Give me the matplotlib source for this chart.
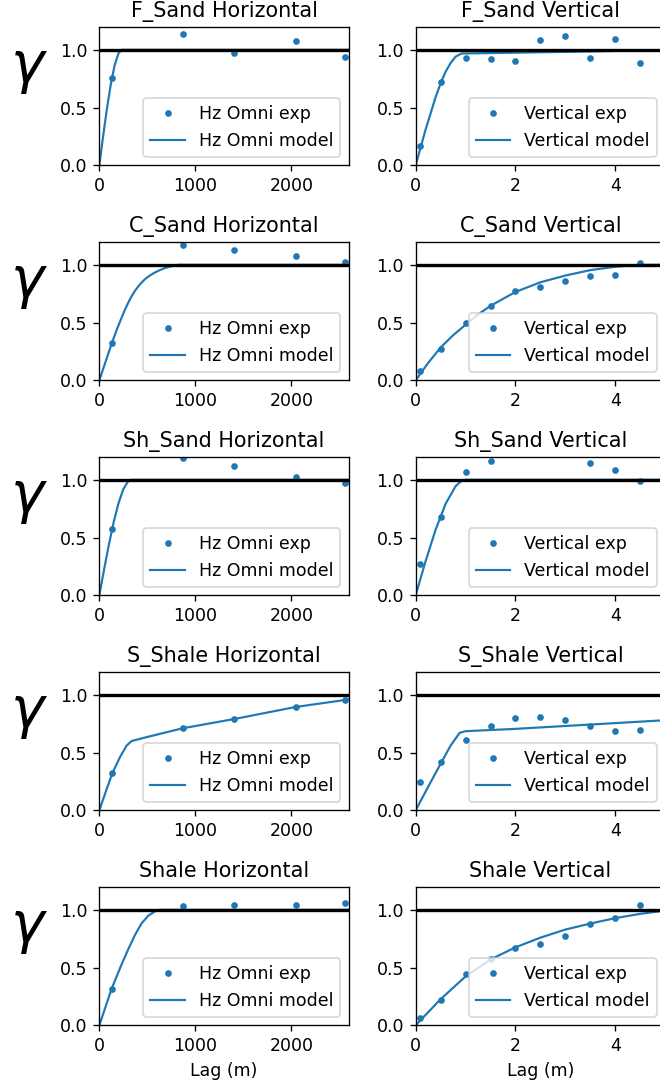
import numpy as np
import matplotlib
matplotlib.use("Agg")
import matplotlib.pyplot as plt

# experimental lags (m)
hz_lags = [135, 867, 1403, 2048, 2561]
vt_lags = [0.08, 0.5, 1.0, 1.5, 2.0, 2.5, 3.0, 3.5, 4.0, 4.5]

facies_names = ["F_Sand", "C_Sand", "Sh_Sand", "S_Shale", "Shale"]

# experimental variogram values, horizontal omni
f_sand_hz_exp = [0.76, 1.135, 0.97, 1.078, 0.942]
c_sand_hz_exp = [0.319, 1.174, 1.128, 1.078, 1.026]
sh_sand_hz_exp = [0.577, 1.188, 1.119, 1.02, 0.974]
s_shale_hz_exp = [0.319, 0.71, 0.788, 0.896, 0.951]
shale_hz_exp = [0.316, 1.029, 1.038, 1.041, 1.055]

# experimental variogram values, vertical (nan = off the plot)
f_sand_vt_exp = [0.168, 0.719, 0.93, 0.922, 0.901, 1.087, 1.116, 0.928, 1.093, 0.89]
c_sand_vt_exp = [0.081, 0.275, 0.499, 0.643, 0.777, 0.812, 0.861, 0.901, 0.916, 1.017]
sh_sand_vt_exp = [0.275, 0.681, 1.067, 1.165, np.nan, np.nan, np.nan, 1.148, 1.087, 0.986]
s_shale_vt_exp = [0.249, 0.42, 0.606, 0.733, 0.8, 0.806, 0.783, 0.728, 0.69, 0.693]
shale_vt_exp = [0.061, 0.22, 0.443, 0.574, 0.667, 0.707, 0.777, 0.875, 0.925, 1.041]

# fitted models, horizontal
f_sand_hz_model_x = [0, 40, 80, 120, 160, 200, 233, 2600]
f_sand_hz_model_y = [0, 0.255, 0.495, 0.704, 0.868, 0.971, 1.0, 1.0]
c_sand_hz_model_x = [0, 128, 180, 232, 266, 301, 335, 370, 422, 474, 526, 578,
                     630, 682, 734, 785, 820, 2600]
c_sand_hz_model_y = [0, 0.316, 0.435, 0.542, 0.61, 0.672, 0.726, 0.774, 0.83, 0.875,
                     0.907, 0.933, 0.954, 0.971, 0.984, 0.994, 1.0, 1.0]
sh_sand_hz_model_x = [0, 50, 100, 150, 200, 250, 300, 330, 2600]
sh_sand_hz_model_y = [0, 0.226, 0.44, 0.635, 0.798, 0.919, 0.988, 1.0, 1.0]
s_shale_hz_model_x = [0, 77, 135, 215, 284, 337, 500, 867, 1403, 2048, 2600]
s_shale_hz_model_y = [0, 0.185, 0.32, 0.46, 0.56, 0.60, 0.635, 0.71, 0.79, 0.895, 0.96]
shale_hz_model_x = [0, 128, 232, 301, 370, 439, 509, 578, 630, 2600]
shale_hz_model_y = [0, 0.316, 0.528, 0.658, 0.78, 0.881, 0.948, 0.986, 1.0, 1.0]

# fitted models, vertical
f_sand_vt_model_x = [0, 0.2, 0.4, 0.5, 0.6, 0.7, 0.8, 0.92, 2.0, 3.0, 4.0, 5.0]
f_sand_vt_model_y = [0, 0.31, 0.59, 0.71, 0.81, 0.885, 0.94, 0.968, 0.975, 0.982, 0.99, 0.997]
c_sand_vt_model_x = [0, 0.25, 0.5, 0.75, 1.0, 1.25, 1.5, 2.0, 2.5, 3.0, 3.5, 4.0, 4.5, 5.0]
c_sand_vt_model_y = [0, 0.15, 0.284, 0.39, 0.481, 0.57, 0.645, 0.765, 0.849, 0.907,
                     0.954, 0.983, 1.0, 1.0]
sh_sand_vt_model_x = [0, 0.2, 0.4, 0.6, 0.8, 0.9, 1.0, 5.0]
sh_sand_vt_model_y = [0, 0.296, 0.568, 0.792, 0.944, 0.985, 1.0, 1.0]
s_shale_vt_model_x = [0, 0.29, 0.51, 0.7, 0.88, 1.0, 2.0, 3.0, 4.0, 5.0]
s_shale_vt_model_y = [0, 0.235, 0.41, 0.56, 0.67, 0.685, 0.705, 0.73, 0.755, 0.78]
shale_vt_model_x = [0, 0.5, 1.0, 1.5, 2.0, 2.5, 3.0, 3.5, 4.0, 4.5, 5.0]
shale_vt_model_y = [0, 0.226, 0.423, 0.57, 0.675, 0.759, 0.829, 0.881, 0.928, 0.965, 0.993]

hz_exp = [f_sand_hz_exp, c_sand_hz_exp, sh_sand_hz_exp, s_shale_hz_exp, shale_hz_exp]
vt_exp = [f_sand_vt_exp, c_sand_vt_exp, sh_sand_vt_exp, s_shale_vt_exp, shale_vt_exp]
hz_model = [
    (f_sand_hz_model_x, f_sand_hz_model_y),
    (c_sand_hz_model_x, c_sand_hz_model_y),
    (sh_sand_hz_model_x, sh_sand_hz_model_y),
    (s_shale_hz_model_x, s_shale_hz_model_y),
    (shale_hz_model_x, shale_hz_model_y),
]
vt_model = [
    (f_sand_vt_model_x, f_sand_vt_model_y),
    (c_sand_vt_model_x, c_sand_vt_model_y),
    (sh_sand_vt_model_x, sh_sand_vt_model_y),
    (s_shale_vt_model_x, s_shale_vt_model_y),
    (shale_vt_model_x, shale_vt_model_y),
]


def main():
    plt.rcParams["font.size"] = 10.4
    fig, axes = plt.subplots(5, 2, figsize=(5.5, 1084 / 120), dpi=120)
    fig.subplots_adjust(left=0.1505, right=1.008, top=1 - 26.7 / 1084,
                        bottom=1 - 1025.3 / 1084, wspace=0.267, hspace=0.551)

    for i, name in enumerate(facies_names):
        ax = axes[i, 0]
        ax.plot(hz_lags, hz_exp[i], ".", color="C0", label="Hz Omni exp")
        ax.plot(*hz_model[i], color="C0", lw=1.3, label="Hz Omni model")
        ax.axhline(1.0, color="black", lw=2)
        ax.set_xlim(0, 2600)
        ax.set_ylim(0, 1.2)
        ax.set_title(name + " Horizontal")
        ax.set_ylabel(r"$\gamma$", rotation=0, fontsize=34)
        ax.yaxis.set_label_coords(-0.28, 0.5)
        ax.legend(loc="lower right")

        ax = axes[i, 1]
        ax.plot(vt_lags, vt_exp[i], ".", color="C0", label="Vertical exp")
        ax.plot(*vt_model[i], color="C0", lw=1.3, label="Vertical model")
        ax.axhline(1.0, color="black", lw=2)
        ax.set_xlim(0, 5)
        ax.set_ylim(0, 1.2)
        ax.set_title(name + " Vertical")
        ax.legend(loc="lower right")

    axes[-1, 0].set_xlabel("Lag (m)")
    axes[-1, 1].set_xlabel("Lag (m)")

    fig.savefig("out.png", dpi=120)


if __name__ == "__main__":
    main()
